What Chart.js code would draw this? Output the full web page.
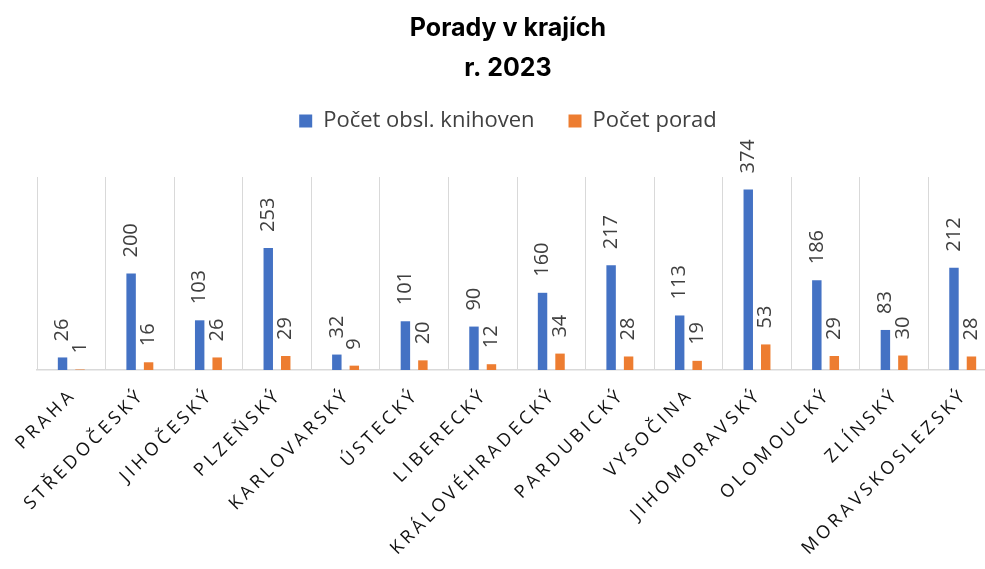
<!DOCTYPE html>
<html lang="cs">
<head>
  <meta charset="UTF-8">
  <title>Porady v krajích</title>
  <script src="https://cdn.jsdelivr.net/npm/chart.js"></script>
  <style>
    html, body {
      margin: 0;
      padding: 0;
      background: #fff;
      overflow: hidden;
    }
    canvas { display: block; }
  </style>
</head>
<body>
  <canvas id="poradyChart" width="1016" height="569"></canvas>

  <script>
    // data
    const regions = ['PRAHA', 'STŘEDOČESKÝ', 'JIHOČESKÝ', 'PLZEŇSKÝ', 'KARLOVARSKÝ', 'ÚSTECKÝ', 'LIBERECKÝ',
      'KRÁLOVÉHRADECKÝ', 'PARDUBICKÝ', 'VYSOČINA', 'JIHOMORAVSKÝ', 'OLOMOUCKÝ', 'ZLÍNSKÝ', 'MORAVSKOSLEZSKÝ'];
    const libraries = [26, 200, 103, 253, 32, 101, 90, 160, 217, 113, 374, 186, 83, 212];
    const meetings = [1, 16, 26, 29, 9, 20, 12, 34, 28, 19, 53, 29, 30, 28];

    // legend is given extra room underneath so the plot starts lower
    const legendGap = {
      id: 'legendGap',
      beforeInit(chart) {
        const fit = chart.legend.fit;
        chart.legend.fit = function () {
          fit.call(this);
          this.height = 101;
        };
      }
    };

    // vertical value labels above each bar
    const barLabels = {
      id: 'barLabels',
      afterDatasetsDraw(chart) {
        const ctx = chart.ctx;
        ctx.save();
        ctx.font = '20px "Open Sans"';
        ctx.fillStyle = '#404040';
        ctx.textAlign = 'left';
        ctx.textBaseline = 'middle';
        chart.data.datasets.forEach((ds, d) => {
          chart.getDatasetMeta(d).data.forEach((bar, i) => {
            ctx.save();
            ctx.translate(bar.x, bar.y - 16);
            ctx.rotate(-Math.PI / 2);
            ctx.fillText(String(ds.data[i]), 0, 0);
            ctx.restore();
          });
        });
        ctx.restore();
      }
    };

    // spaced-out region names, slanted 45 degrees
    const regionLabels = {
      id: 'regionLabels',
      afterDraw(chart) {
        const ctx = chart.ctx;
        const xs = chart.scales.x;
        ctx.save();
        ctx.font = '18px "Open Sans"';
        ctx.letterSpacing = '3.8px';
        ctx.fillStyle = '#111';
        ctx.textAlign = 'right';
        ctx.textBaseline = 'middle';
        regions.forEach((r, i) => {
          ctx.save();
          ctx.translate(xs.getPixelForValue(i) + 2, xs.top + 22);
          ctx.rotate(-Math.PI / 4);
          ctx.fillText(r, 0, 0);
          ctx.restore();
        });
        ctx.restore();
      }
    };

    new Chart(document.getElementById('poradyChart'), {
      type: 'bar',
      data: {
        labels: regions,
        datasets: [{
          label: 'Počet obsl. knihoven',
          data: libraries,
          backgroundColor: '#4472C4',
          categoryPercentage: 0.51,
          barPercentage: 0.54
        }, {
          label: 'Počet porad',
          data: meetings,
          backgroundColor: '#ED7D31',
          categoryPercentage: 0.51,
          barPercentage: 0.54
        }]
      },
      options: {
        responsive: false,
        animation: false,
        layout: {
          padding: { left: 19, right: 19, top: 0, bottom: 0 }
        },
        plugins: {
          title: {
            display: true,
            text: ['Porady v krajích', 'r. 2023'],
            color: '#000',
            font: { family: 'Inter', size: 25, weight: '700', lineHeight: 1.6 },
            padding: { top: 8, bottom: -12 }
          },
          legend: {
            display: true,
            labels: {
              color: '#404040',
              font: { family: 'Open Sans', size: 22 },
              boxWidth: 13,
              boxHeight: 13,
              padding: 34
            }
          },
          tooltip: { enabled: false }
        },
        scales: {
          x: {
            grid: { color: '#d9d9d9', drawTicks: false, offset: true },
            border: { color: '#d9d9d9', width: 1.5 },
            ticks: { display: false },
            afterFit(scale) { scale.height = 199; }
          },
          y: {
            min: 0,
            max: 400,
            grid: { display: false },
            border: { display: false },
            ticks: { display: false },
            afterFit(scale) { scale.width = 18; }
          }
        }
      },
      plugins: [legendGap, barLabels, regionLabels]
    });
  </script>
</body>
</html>
